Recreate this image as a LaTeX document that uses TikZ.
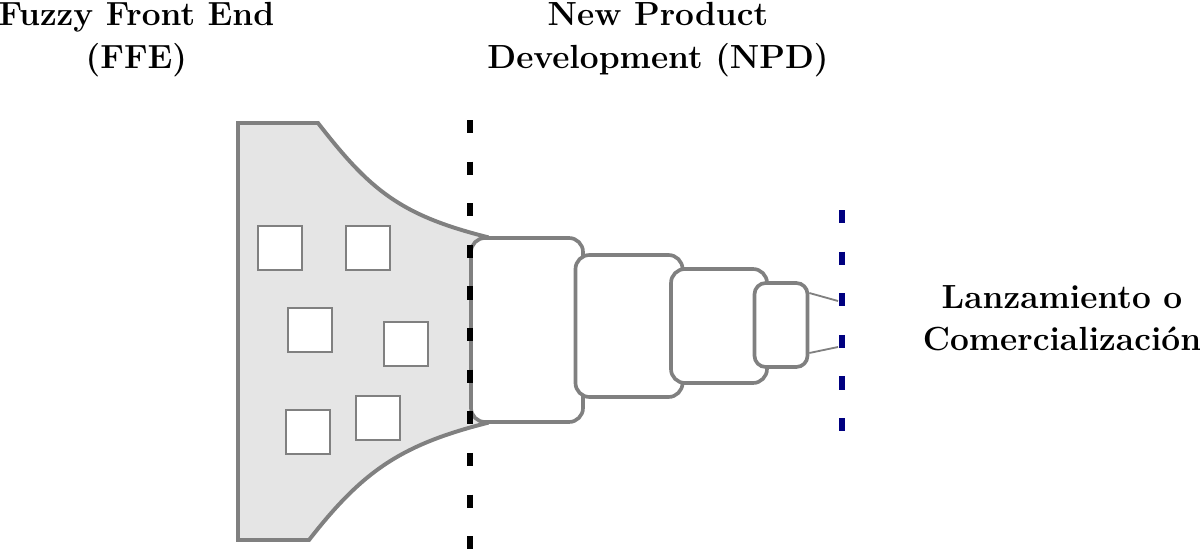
\documentclass[tikz,border=0pt]{standalone}
\usepackage{fontspec}
\definecolor{launchblue}{RGB}{0,0,128}
\begin{document}
\begin{tikzpicture}

    % Styles
    \tikzstyle{heading} = [align=center, inner sep=0pt, anchor=north, font=\fontsize{23.8}{30}\selectfont\bfseries]
    \tikzstyle{funnel} = [draw=gray, fill=gray!20, line width=2.8pt]
    \tikzstyle{idea} = [rectangle, minimum width=1.1cm, minimum height=1.1cm, inner sep=0pt, draw=gray, fill=white, line width=2pt]
    \tikzstyle{stage} = [rectangle, rounded corners=0.35cm, inner sep=0pt, draw=gray, fill=white, line width=2.6pt]
    \tikzstyle{link} = [draw=gray, line width=1.3pt]
    \tikzstyle{gate} = [line width=4.5pt, dash pattern=on 9.3pt off 20.3pt]

    \useasboundingbox (0,0) rectangle (30,-13.8);

    % Embudo
    \draw [funnel] (5.95,-3.075) -- (7.95,-3.075) .. controls (9.25,-4.75) and (10,-5.375) .. (12.175,-5.925)
        -- (12.175,-10.575) .. controls (10,-11.125) and (9.05,-11.8) .. (7.725,-13.5) -- (5.95,-13.5) -- cycle;

    % Nodos
    \node (ffe) [heading] at (3.41,-0.06) {Fuzzy Front End\\(FFE)};
    \node (npd) [heading] at (16.45,-0.06) {New Product\\Development (NPD)};
    \node (launch) [heading] at (26.55,-7.12) {Lanzamiento o\\Comercialización};

    \node (idea1) [idea] at (7.0,-6.2) {};
    \node (idea2) [idea, right of=idea1, xshift=1.2cm] {};
    \node (idea3) [idea, below of=idea1, xshift=0.75cm, yshift=-1.05cm] {};
    \node (idea4) [idea, below of=idea2, xshift=0.95cm, yshift=-1.4cm] {};
    \node (idea5) [idea, below of=idea3, xshift=-0.05cm, yshift=-1.55cm] {};
    \node (idea6) [idea, below of=idea4, xshift=-0.7cm, yshift=-0.85cm] {};

    \node (stage1) [stage, minimum width=2.8cm, minimum height=4.6cm] at (13.175,-8.25) {};
    \node (stage2) [stage, minimum width=2.675cm, minimum height=3.55cm, right of=stage1, xshift=1.55cm, yshift=0.1cm] {};
    \node (stage3) [stage, minimum width=2.4cm, minimum height=2.85cm, right of=stage2, xshift=1.25cm] {};
    \node (stage4) [stage, rounded corners=0.28cm, minimum width=1.325cm, minimum height=2.1cm, right of=stage3, xshift=0.55cm, yshift=0.025cm] {};

    % Lineas
    \coordinate (launch-a) at (20.95,-7.525);
    \coordinate (launch-b) at (20.95,-8.675);
    \draw [link] ([yshift=0.8cm]stage4.east) -- (launch-a);
    \draw [link] ([yshift=-0.7cm]stage4.east) -- (launch-b);

    \coordinate (ffe-top) at (11.75,-3.0);
    \coordinate (ffe-bottom) at (11.75,-13.8);
    \coordinate (npd-top) at (21.05,-5.25);
    \coordinate (npd-bottom) at (21.05,-10.8);
    \draw [gate, black] (ffe-top) -- (ffe-bottom);
    \draw [gate, launchblue] (npd-top) -- (npd-bottom);

\end{tikzpicture}
\end{document}
